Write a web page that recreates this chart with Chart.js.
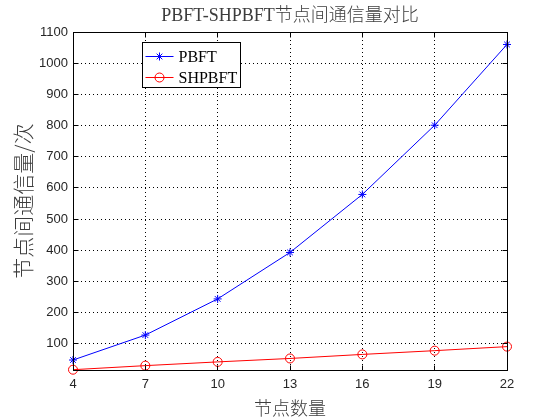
<!DOCTYPE html>
<html>
<head>
<meta charset="utf-8">
<script src="https://cdn.jsdelivr.net/npm/chart.js@4/dist/chart.umd.min.js"></script>
<style>
  html, body { margin: 0; padding: 0; background: #fff; }
  #c { display: block; }
</style>
</head>
<body>
<canvas id="c" width="560" height="420"></canvas>
<script>
// ---- data ----
const categories = ['4', '7', '10', '13', '16', '19', '22'];
const pbft = [48, 128, 244, 393, 579, 801, 1060];
const shpbft = [17, 30, 42, 53, 66, 78, 91];
const yTicks = [100, 200, 300, 400, 500, 600, 700, 800, 900, 1000, 1100];
const yMin = 16;
const yMax = 1100;
const titleText = 'PBFT-SHPBFT节点间通信量对比';
const xTitle = '节点数量';
const yTitle = '节点间通信量/次';

const sans = "'Liberation Sans', Arial, sans-serif";
const serifCJK = "'Liberation Serif', 'Noto Sans CJK SC', serif";
const cjk = "'Noto Sans CJK SC', sans-serif";
const textColor = '#262626';
const titleColor = '#3c3c3c';

function al(v) { return Math.round(v - 0.5) + 0.5; }

const framePlugin = {
  id: 'frame',
  afterDatasetsDraw(chart) {
    const { ctx, chartArea: a, scales } = chart;
    const x = scales.x, y = scales.y;
    const L = al(a.left), R = al(a.right), T = al(a.top), B = al(a.bottom);
    ctx.save();
    ctx.strokeStyle = '#000';
    ctx.lineWidth = 1;
    ctx.setLineDash([]);
    const tl = 5;
    ctx.beginPath();
    x.ticks.forEach((t, i) => {
      const px = al(x.getPixelForTick(i));
      ctx.moveTo(px, B); ctx.lineTo(px, B - tl);
      ctx.moveTo(px, T); ctx.lineTo(px, T + tl);
    });
    y.ticks.forEach((t) => {
      const py = al(y.getPixelForValue(t.value));
      ctx.moveTo(L, py); ctx.lineTo(L + tl, py);
      ctx.moveTo(R, py); ctx.lineTo(R - tl, py);
    });
    ctx.stroke();
    ctx.strokeRect(L, T, R - L, B - T);
    ctx.restore();
  },
  afterDraw(chart) {
    const { ctx, chartArea: a } = chart;
    const bx = Math.round(a.left) + 69 + 0.5;
    const by = Math.round(a.top) + 10 + 0.5;
    const bw = 98, bh = 45;
    ctx.save();
    ctx.fillStyle = '#fff';
    ctx.fillRect(bx, by, bw, bh);
    ctx.strokeStyle = '#000';
    ctx.lineWidth = 1;
    ctx.strokeRect(bx, by, bw, bh);
    chart.data.datasets.forEach((ds, i) => {
      const ly = Math.round(by + 13 + i * 21.5) + 0.5;
      ctx.strokeStyle = ds.borderColor;
      ctx.lineWidth = 1;
      ctx.beginPath();
      ctx.moveTo(bx + 3, ly);
      ctx.lineTo(bx + 31, ly);
      ctx.stroke();
      ctx.fillStyle = 'rgba(0,0,0,0)';
      Chart.helpers.drawPoint(ctx, {
        pointStyle: ds.pointStyle, radius: ds.pointRadius, borderWidth: 1, rotation: 0
      }, bx + 17, ly);
      ctx.fillStyle = '#000';
      ctx.font = "16px " + serifCJK;
      ctx.textBaseline = 'middle';
      ctx.textAlign = 'left';
      ctx.fillText(ds.label, bx + 36, ly + 1);
    });
    ctx.restore();
  }
};

new Chart(document.getElementById('c'), {
  type: 'line',
  data: {
    labels: categories,
    datasets: [
      {
        label: 'PBFT',
        data: pbft,
        borderColor: '#0000ff',
        backgroundColor: 'rgba(0,0,0,0)',
        borderWidth: 1,
        pointStyle: 'star',
        pointRadius: 4,
        pointBorderWidth: 1,
        pointBorderColor: '#0000ff',
        pointBackgroundColor: 'rgba(0,0,0,0)',
        tension: 0,
        clip: false
      },
      {
        label: 'SHPBFT',
        data: shpbft,
        borderColor: '#ff0000',
        backgroundColor: 'rgba(0,0,0,0)',
        borderWidth: 1,
        pointStyle: 'circle',
        pointRadius: 4.5,
        pointBorderWidth: 1,
        pointBorderColor: '#ff0000',
        pointBackgroundColor: 'rgba(0,0,0,0)',
        tension: 0,
        clip: false
      }
    ]
  },
  options: {
    responsive: false,
    devicePixelRatio: 1,
    animation: false,
    layout: { padding: { left: 0, right: 53, top: 0, bottom: 0 } },
    plugins: {
      legend: { display: false },
      tooltip: { enabled: false },
      title: {
        display: true,
        text: titleText,
        fullSize: false,
        color: titleColor,
        font: { family: serifCJK, size: 18, weight: 300, lineHeight: 1.2 },
        padding: { top: 5, bottom: 5.4 }
      }
    },
    scales: {
      x: {
        type: 'category',
        offset: false,
        border: { display: false, dash: [1, 3] },
        grid: { color: '#000', lineWidth: 1, drawTicks: false, tickLength: 0 },
        ticks: {
          color: textColor, padding: 7, autoSkip: false, maxRotation: 0,
          font: { family: sans, size: 13 }
        },
        title: {
          display: true, text: xTitle, color: titleColor,
          font: { family: cjk, size: 18, weight: 300, lineHeight: 1.2 },
          padding: { top: 0, bottom: 1 }
        },
        afterFit(scale) { scale.height = 50; }
      },
      y: {
        type: 'linear',
        min: yMin,
        max: yMax,
        border: { display: false, dash: [1, 3] },
        grid: { color: '#000', lineWidth: 1, drawTicks: false, tickLength: 0 },
        ticks: {
          color: textColor, padding: 5,
          font: { family: sans, size: 13 },
          callback: (v) => String(v)
        },
        afterBuildTicks(scale) { scale.ticks = yTicks.map(v => ({ value: v })); },
        title: {
          display: true, text: yTitle, color: titleColor,
          font: { family: cjk, size: 21, weight: 300, lineHeight: 1.2 },
          padding: { top: 10, bottom: 0 }
        },
        afterFit(scale) { scale.width = 73; }
      }
    }
  },
  plugins: [framePlugin]
});
</script>
</body>
</html>
